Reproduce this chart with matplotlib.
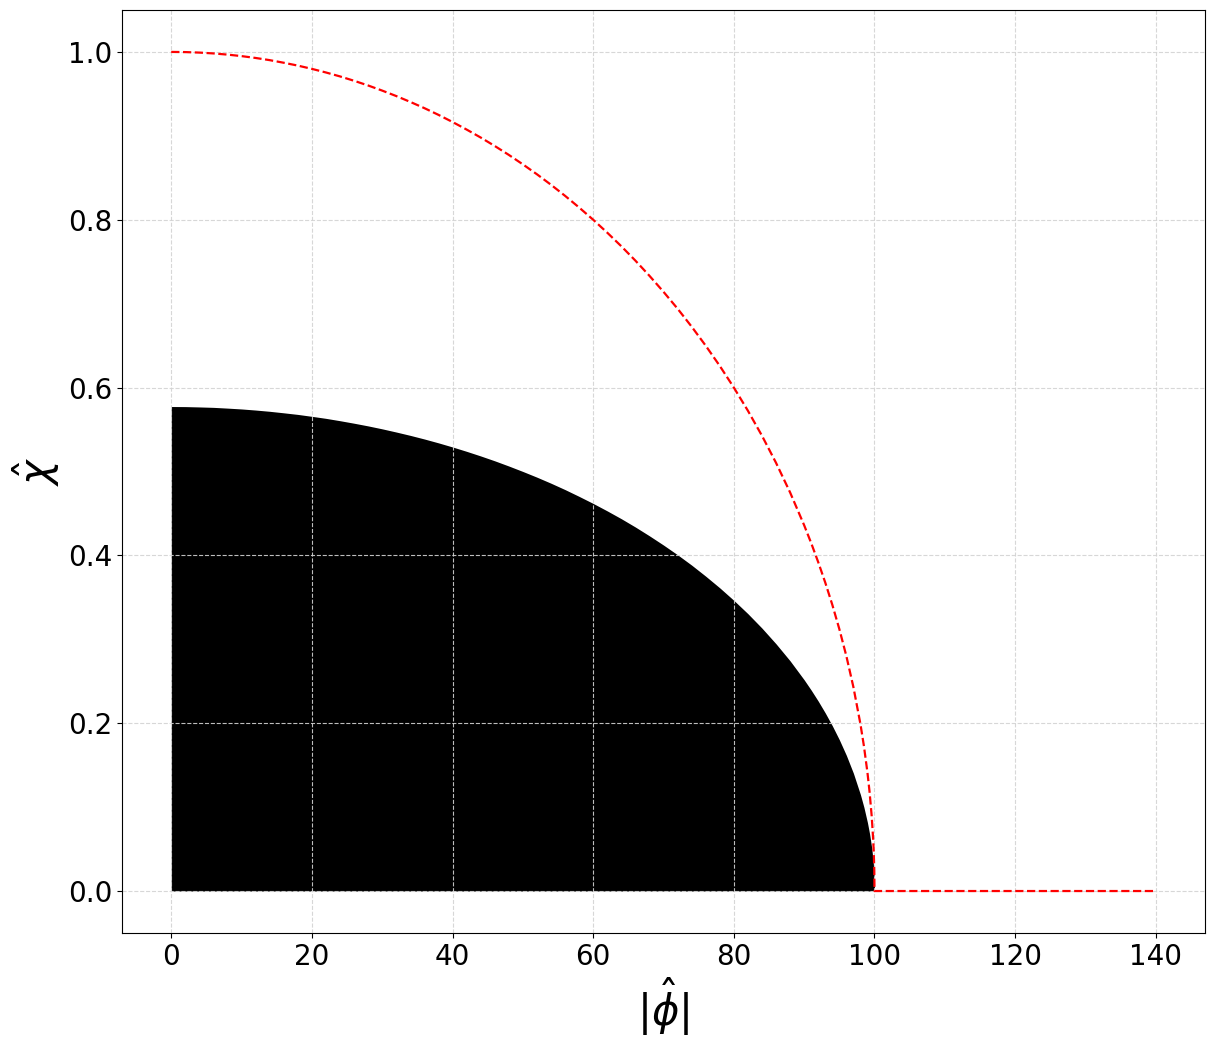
import matplotlib
matplotlib.use("Agg")
import matplotlib.pyplot as plt

# |phi| sample positions
phi = [0, 2, 4, 6, 8, 10, 12, 14, 16, 18, 20, 22, 24, 26, 28, 30, 32, 34, 36, 38,
       40, 42, 44, 46, 48, 50, 52, 54, 56, 58, 60, 62, 64, 66, 68, 70, 72, 74, 76, 78,
       80, 82, 84, 86, 88, 90, 91, 92, 93, 94, 95, 96, 97, 98, 98.5, 99, 99.3, 99.6,
       99.8, 99.9, 99.97, 100]
# red dashed boundary
chi_outer = [1.0000, 0.9998, 0.9992, 0.9982, 0.9968, 0.9950, 0.9928, 0.9902, 0.9871, 0.9837,
             0.9798, 0.9755, 0.9708, 0.9656, 0.9600, 0.9539, 0.9474, 0.9404, 0.9330, 0.9250,
             0.9165, 0.9075, 0.8980, 0.8879, 0.8773, 0.8660, 0.8542, 0.8417, 0.8285, 0.8146,
             0.8000, 0.7846, 0.7684, 0.7513, 0.7332, 0.7141, 0.6940, 0.6726, 0.6499, 0.6258,
             0.6000, 0.5724, 0.5426, 0.5103, 0.4750, 0.4359, 0.4146, 0.3919, 0.3676, 0.3412,
             0.3122, 0.2800, 0.2431, 0.1990, 0.1726, 0.1411, 0.1181, 0.0894, 0.0632, 0.0447,
             0.0245, 0.0]
# black filled region
chi_inner = [0.5774, 0.5773, 0.5769, 0.5764, 0.5755, 0.5745, 0.5732, 0.5717, 0.5699, 0.5680,
             0.5657, 0.5633, 0.5605, 0.5575, 0.5543, 0.5508, 0.5470, 0.5430, 0.5387, 0.5341,
             0.5292, 0.5240, 0.5185, 0.5127, 0.5065, 0.5000, 0.4932, 0.4860, 0.4784, 0.4703,
             0.4619, 0.4530, 0.4437, 0.4338, 0.4233, 0.4123, 0.4007, 0.3884, 0.3752, 0.3613,
             0.3464, 0.3305, 0.3133, 0.2946, 0.2743, 0.2517, 0.2394, 0.2263, 0.2122, 0.1970,
             0.1803, 0.1617, 0.1404, 0.1149, 0.0997, 0.0815, 0.0682, 0.0516, 0.0365, 0.0258,
             0.0141, 0.0]
# flat tail of the red line
phi_tail = [140]
chi_tail = [0.0]

fig = plt.figure(figsize=(12.15, 10.49), dpi=100)
ax = fig.add_axes([0.1004, 0.1106, 0.8914, 0.8799])

ax.fill_between(phi, 0, chi_inner, color="black", linewidth=0)
ax.plot(phi + phi_tail, chi_outer + chi_tail, "r--", linewidth=1.6)

ax.grid(True, linestyle="--", color="lightgray", alpha=0.9)
ax.set_xlabel(r"$|\hat{\phi}|$", fontsize=30)
ax.set_ylabel(r"$\hat{\chi}$", fontsize=30)
ax.tick_params(labelsize=20)
ax.set_xticks([0, 20, 40, 60, 80, 100, 120, 140])

fig.savefig("out.png", dpi=100)
